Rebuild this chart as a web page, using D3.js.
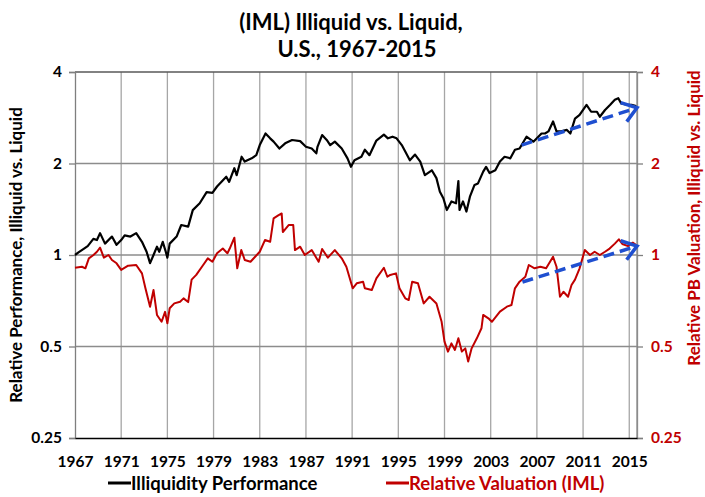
<!DOCTYPE html>
<html>
<head>
<meta charset="utf-8">
<script src="https://cdn.jsdelivr.net/npm/d3@7"></script>
<style>
    body { margin: 0; background: #fff; }
    svg { font-family: Lato, "Open Sans", sans-serif; font-weight: bold; }
</style>
</head>
<body>
<div id="chart"></div>
<script>
// Illiquidity performance (black line, left axis)
const perfYears = [1967.0, 1967.3, 1967.72, 1968.1, 1968.59, 1968.9, 1969.17, 1969.6, 1970.2, 1970.6,
    1971.0, 1971.3, 1971.8, 1972.3, 1972.8, 1973.2, 1973.5, 1973.8, 1974.1, 1974.3,
    1974.6, 1974.86, 1975.0, 1975.2, 1975.8, 1976.2, 1976.8, 1977.2, 1977.8, 1978.4,
    1978.9, 1979.3, 1980.1, 1980.35, 1980.8, 1981.0, 1981.43, 1981.7, 1982.3, 1982.7,
    1983.0, 1983.5, 1983.9, 1984.2, 1984.7, 1985.2, 1985.8, 1986.5, 1987.0, 1987.5,
    1987.9, 1988.0, 1988.4, 1988.8, 1989.1, 1989.5, 1990.1, 1990.6, 1990.9, 1991.2,
    1991.8, 1992.1, 1992.5, 1993.1, 1993.75, 1994.1, 1994.5, 1994.85, 1995.3, 1995.6,
    1996.0, 1996.45, 1996.9, 1997.3, 1997.9, 1998.3, 1998.6, 1998.9, 1999.2, 1999.6,
    2000.0, 2000.2, 2000.3, 2000.6, 2000.9, 2001.2, 2001.6, 2001.9, 2002.35, 2002.6,
    2002.9, 2003.4, 2003.8, 2004.2, 2004.7, 2005.1, 2005.5, 2006.1, 2006.7, 2007.4,
    2007.7, 2008.0, 2008.4, 2008.7, 2009.1, 2009.6, 2009.9, 2010.3, 2010.7, 2011.3,
    2011.7, 2012.2, 2012.45, 2012.9, 2013.35, 2013.75, 2014.05, 2014.3, 2014.8, 2015.2, 2015.6];
const perfValues = [1.00, 1.02, 1.046, 1.07, 1.13, 1.12, 1.18, 1.09, 1.15, 1.08,
    1.12, 1.16, 1.15, 1.18, 1.105, 1.025, 0.94, 1.0, 1.065, 1.025,
    1.105, 1.025, 0.98, 1.09, 1.15, 1.255, 1.24, 1.405, 1.48, 1.61,
    1.60, 1.68, 1.81, 1.74, 1.93, 1.83, 2.105, 2.03, 2.08, 2.13,
    2.30, 2.51, 2.42, 2.36, 2.24, 2.33, 2.39, 2.37, 2.27, 2.24,
    2.16, 2.27, 2.48, 2.39, 2.30, 2.36, 2.24, 2.08, 1.95, 2.05,
    2.105, 2.22, 2.13, 2.38, 2.49, 2.42, 2.45, 2.42, 2.30, 2.19,
    2.05, 2.14, 2.03, 1.83, 1.90, 1.79, 1.615, 1.537, 1.406, 1.50,
    1.48, 1.75, 1.406, 1.50, 1.39, 1.555, 1.70, 1.72, 1.88, 1.95,
    1.86, 1.90, 2.03, 2.105, 2.08, 2.22, 2.24, 2.45, 2.36, 2.51,
    2.51, 2.55, 2.75, 2.55, 2.55, 2.58, 2.51, 2.81, 2.89, 3.12,
    2.96, 2.96, 2.85, 3.0, 3.12, 3.24, 3.28, 3.15, 3.12, 3.12, 3.09];

// Relative PB valuation (red line, right axis)
const valYears = [1967.0, 1967.6, 1967.9, 1968.2, 1968.6, 1968.9, 1969.17, 1969.5, 1969.9, 1970.2,
    1970.6, 1971.0, 1971.6, 1972.3, 1972.8, 1973.1, 1973.5, 1973.8, 1974.1, 1974.5,
    1974.8, 1975.0, 1975.2, 1975.6, 1976.1, 1976.4, 1976.8, 1977.1, 1977.5, 1978.1,
    1978.5, 1978.9, 1979.3, 1979.8, 1980.2, 1980.4, 1980.8, 1981.05, 1981.4, 1981.7,
    1982.2, 1982.6, 1983.0, 1983.45, 1983.9, 1984.2, 1984.6, 1984.9, 1985.0, 1985.5,
    1985.9, 1986.05, 1986.5, 1986.9, 1987.5, 1988.1, 1988.4, 1988.9, 1989.5, 1990.1,
    1990.5, 1991.05, 1991.4, 1991.95, 1992.1, 1992.7, 1993.1, 1993.75, 1994.05, 1994.3,
    1994.8, 1995.1, 1995.6, 1995.9, 1996.2, 1996.7, 1997.2, 1997.7, 1998.3, 1998.75,
    1999.0, 1999.3, 1999.6, 1999.9, 2000.2, 2000.5, 2000.8, 2001.05, 2001.35, 2001.8,
    2002.2, 2002.35, 2002.8, 2003.1, 2003.8, 2004.4, 2004.8, 2005.1, 2005.5, 2006.0,
    2006.3, 2006.8, 2007.3, 2007.8, 2008.4, 2008.7, 2009.0, 2009.3, 2009.7, 2010.0,
    2010.3, 2010.7, 2011.15, 2011.6, 2012.0, 2012.45, 2012.9, 2013.3, 2013.75, 2014.1,
    2014.4, 2014.9, 2015.3, 2015.6];
const valValues = [0.908, 0.915, 0.904, 0.975, 1.0, 1.025, 1.057, 0.98, 1.0, 0.963,
    0.939, 0.893, 0.922, 0.927, 0.87, 0.777, 0.676, 0.767, 0.635, 0.603,
    0.65, 0.596, 0.668, 0.693, 0.702, 0.72, 0.70, 0.83, 0.86, 0.927,
    0.975, 0.95, 1.013, 1.05, 1.013, 1.05, 1.14, 0.904, 1.038, 0.963,
    0.95, 0.987, 1.025, 1.12, 1.105, 1.32, 1.35, 1.37, 1.19, 1.255,
    1.255, 1.038, 1.065, 1.0, 1.038, 0.95, 1.046, 0.98, 1.038, 0.975,
    0.915, 0.777, 0.807, 0.817, 0.777, 0.767, 0.838, 0.908, 0.848, 0.86,
    0.87, 0.777, 0.72, 0.711, 0.817, 0.807, 0.693, 0.729, 0.693, 0.603,
    0.519, 0.481, 0.512, 0.487, 0.532, 0.481, 0.493, 0.446, 0.493, 0.532,
    0.574, 0.635, 0.619, 0.603, 0.651, 0.676, 0.685, 0.777, 0.817, 0.848,
    0.927, 0.904, 0.915, 0.904, 0.987, 0.915, 0.729, 0.757, 0.729, 0.797,
    0.83, 0.904, 1.038, 1.0, 1.025, 1.0, 1.025, 1.05, 1.09, 1.126,
    1.087, 1.07, 1.098, 1.078];

// Trend arrows drawn over the chart: [startYear, startValue, endYear, endValue]
const perfArrow = [2005.68, 2.30, 2015.67, 3.05];
const valArrow = [2005.75, 0.815, 2015.67, 1.07];

const xTickYears = d3.range(1967, 2016, 4);
const yTicks = [0.25, 0.5, 1, 2, 4];
const yTickLabels = ['0.25', '0.5', '1', '2', '4'];

const width = 705, height = 497;
const red = '#c00000', blue = '#1f4fd0';

const svg = d3.select('#chart')
    .append('svg')
    .attr('width', width)
    .attr('height', height);

const x = d3.scaleLinear().domain([1967, 2015.67]).range([75, 637]);
const y = d3.scaleLog().base(2).domain([0.25, 4]).range([438, 72]);

// Gridlines
svg.append('g')
    .selectAll('line')
    .data(xTickYears.slice(1))
    .enter()
    .append('line')
    .attr('x1', d => x(d)).attr('x2', d => x(d))
    .attr('y1', y(4)).attr('y2', y(0.25))
    .attr('stroke', '#a6a6a6')
    .attr('stroke-width', 1.3);

svg.append('g')
    .selectAll('line')
    .data([0.5, 1, 2])
    .enter()
    .append('line')
    .attr('x1', x.range()[0]).attr('x2', x.range()[1])
    .attr('y1', d => y(d)).attr('y2', d => y(d))
    .attr('stroke', '#8c8c8c')
    .attr('stroke-width', 1.3);

// Plot frame
svg.append('line')
    .attr('x1', x.range()[0]).attr('x2', x.range()[1])
    .attr('y1', y(4)).attr('y2', y(4))
    .attr('stroke', '#595959').attr('stroke-width', 1.3);
svg.append('line')
    .attr('x1', x.range()[1]).attr('x2', x.range()[1])
    .attr('y1', y(4)).attr('y2', y(0.25))
    .attr('stroke', '#8c8c8c').attr('stroke-width', 1.3);

// Left axis
const leftAxis = svg.append('g')
    .attr('transform', `translate(${x.range()[0]},0)`)
    .call(d3.axisLeft(y).tickValues(yTicks).tickFormat((d, i) => yTickLabels[i]).tickSizeOuter(0).tickSize(6).tickPadding(7));
leftAxis.select('.domain').attr('stroke', '#7f7f7f').attr('stroke-width', 1.3);
leftAxis.selectAll('.tick line').attr('stroke', '#7f7f7f').attr('stroke-width', 1.3);
leftAxis.selectAll('text')
    .attr('font-family', 'Lato, sans-serif')
    .attr('font-size', 15.5)
    .attr('font-weight', 'bold')
    .attr('fill', '#000');

// Right axis
const rightAxis = svg.append('g')
    .attr('transform', `translate(${x.range()[1]},0)`)
    .call(d3.axisRight(y).tickValues(yTicks).tickFormat((d, i) => yTickLabels[i]).tickSizeOuter(0).tickSize(6).tickPadding(8));
rightAxis.select('.domain').attr('stroke', '#8c8c8c').attr('stroke-width', 1.3);
rightAxis.selectAll('.tick line').attr('stroke', '#7f7f7f').attr('stroke-width', 1.3);
rightAxis.selectAll('text')
    .attr('font-family', 'Lato, sans-serif')
    .attr('font-size', 15.5)
    .attr('font-weight', 'bold')
    .attr('fill', red);

// Bottom axis
const bottomAxis = svg.append('g')
    .attr('transform', `translate(0,${y(0.25)})`)
    .call(d3.axisBottom(x).tickValues(xTickYears).tickFormat(d3.format('d')).tickSize(0).tickPadding(18));
bottomAxis.select('.domain').attr('stroke', '#000').attr('stroke-width', 1.5);
bottomAxis.selectAll('text')
    .attr('font-family', 'Lato, sans-serif')
    .attr('font-size', 15.5)
    .attr('font-weight', 'bold')
    .attr('fill', '#000');

// Lines
const line = d3.line()
    .x(d => x(d[0]))
    .y(d => y(d[1]));

svg.append('path')
    .datum(d3.zip(valYears, valValues))
    .attr('fill', 'none')
    .attr('stroke', red)
    .attr('stroke-width', 2)
    .attr('stroke-linejoin', 'round')
    .attr('d', line);

svg.append('path')
    .datum(d3.zip(perfYears, perfValues))
    .attr('fill', 'none')
    .attr('stroke', '#000')
    .attr('stroke-width', 2.2)
    .attr('stroke-linejoin', 'round')
    .attr('d', line);

// Arrow marker
svg.append('defs')
    .append('marker')
    .attr('id', 'chevron')
    .attr('markerUnits', 'userSpaceOnUse')
    .attr('viewBox', '-16 -12 20 24')
    .attr('markerWidth', 20)
    .attr('markerHeight', 24)
    .attr('refX', 0)
    .attr('refY', 0)
    .attr('orient', 'auto')
    .append('path')
    .attr('d', 'M-14,-10 L0,0 L-14,10')
    .attr('fill', 'none')
    .attr('stroke', blue)
    .attr('stroke-width', 3.5);

[perfArrow, valArrow].forEach(a => {
    svg.append('line')
        .attr('x1', x(a[0])).attr('y1', y(a[1]))
        .attr('x2', x(a[2])).attr('y2', y(a[3]))
        .attr('stroke', blue)
        .attr('stroke-width', 3.5)
        .attr('stroke-dasharray', '11,6')
        .attr('marker-end', 'url(#chevron)');
});

// Title
const title = svg.append('text')
    .attr('text-anchor', 'middle')
    .attr('font-size', 22)
    .attr('fill', '#000');
title.append('tspan').attr('x', 351).attr('y', 30).text('(IML) Illiquid vs. Liquid,');
title.append('tspan').attr('x', 357).attr('y', 57).text('U.S., 1967-2015');

// Axis titles
svg.append('text')
    .attr('transform', 'translate(22,255) rotate(-90)')
    .attr('text-anchor', 'middle')
    .attr('font-size', 17)
    .attr('fill', '#000')
    .text('Relative Performance, Illiquid vs. Liquid');

svg.append('text')
    .attr('transform', 'translate(700,218) rotate(-90)')
    .attr('text-anchor', 'middle')
    .attr('font-size', 17)
    .attr('fill', red)
    .text('Relative PB Valuation, Illiquid vs. Liquid');

// Legend
const legendItems = [
    { label: 'Illiquidity Performance', color: '#000', x0: 108 },
    { label: 'Relative Valuation (IML)', color: red, x0: 386 }
];
const legend = svg.append('g')
    .selectAll('g')
    .data(legendItems)
    .enter()
    .append('g')
    .attr('transform', d => `translate(${d.x0},483)`);
legend.append('line')
    .attr('x1', 0).attr('x2', 23)
    .attr('stroke', d => d.color)
    .attr('stroke-width', 3);
legend.append('text')
    .attr('x', 23)
    .attr('dy', '0.36em')
    .attr('font-size', 18.5)
    .attr('fill', d => d.color)
    .text(d => d.label);
</script>
</body>
</html>
